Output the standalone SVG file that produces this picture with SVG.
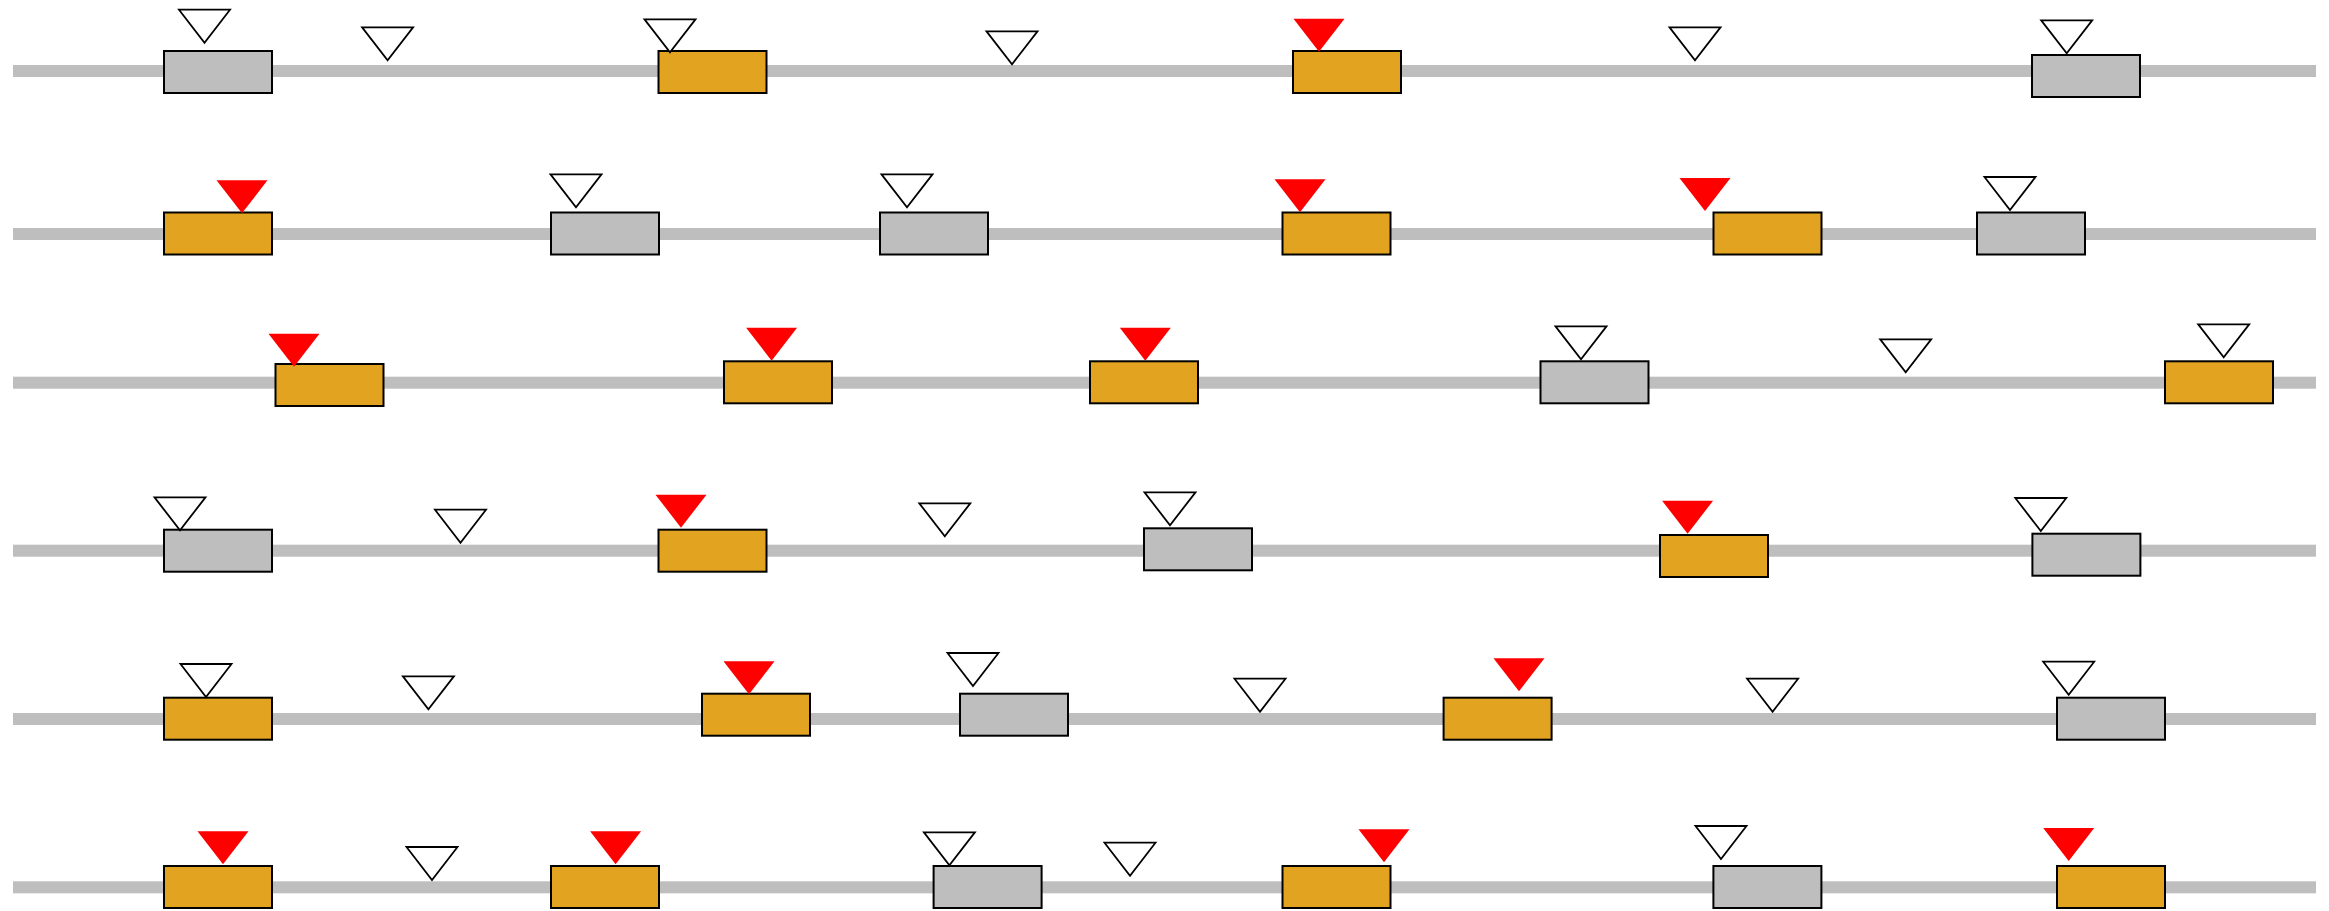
<svg xmlns="http://www.w3.org/2000/svg" xmlns:xlink="http://www.w3.org/1999/xlink" width="2329" height="911" viewBox="0 0 2329 911">
<style>
.track{fill:#bebebe}
.bg{fill:#bebebe;stroke:#000;stroke-width:2}
.bo{fill:#e2a321;stroke:#000;stroke-width:2}
.tw{fill:#fff;stroke:#000;stroke-width:1.8;stroke-linejoin:miter}
.tr{fill:#ff0000;stroke:none}
</style>
<defs>
<polygon id="tri" points="-25.5,-33 25.5,-33 0,0"/>
</defs>
<rect width="2329" height="911" fill="#fff"/>
<g id="connectors">
<rect class="track" x="13" y="65" width="2303" height="12"/>
<rect class="track" x="13" y="228" width="2303" height="12"/>
<rect class="track" x="13" y="376.7" width="2303" height="12"/>
<rect class="track" x="13" y="544.7" width="2303" height="12"/>
<rect class="track" x="13" y="713" width="2303" height="12"/>
<rect class="track" x="13" y="881.3" width="2303" height="12"/>
</g>
<g id="row1">
<g id="r1b1"><rect class="bg" x="164" y="51" width="108" height="42"/></g>
<g id="r1t1"><use href="#tri" class="tw" x="204.5" y="42.7"/></g>
<g id="r1t2"><use href="#tri" class="tw" x="387.6" y="60.3"/></g>
<g id="r1b2"><rect class="bo" x="658.5" y="51" width="108" height="42"/></g>
<g id="r1t3"><use href="#tri" class="tw" x="670" y="52.3"/></g>
<g id="r1t4"><use href="#tri" class="tw" x="1012" y="64.3"/></g>
<g id="r1b3"><rect class="bo" x="1293" y="51" width="108" height="42"/></g>
<g id="r1t5"><use href="#tri" class="tr" x="1319" y="51.7"/></g>
<g id="r1t6"><use href="#tri" class="tw" x="1695" y="60.3"/></g>
<g id="r1b4"><rect class="bg" x="2032" y="55" width="108" height="42"/></g>
<g id="r1t7"><use href="#tri" class="tw" x="2066.7" y="53.3"/></g>
</g>
<g id="row2">
<g id="r2b1"><rect class="bo" x="164" y="212.5" width="108" height="42"/></g>
<g id="r2t1"><use href="#tri" class="tr" x="242" y="213.3"/></g>
<g id="r2b2"><rect class="bg" x="551" y="212.5" width="108" height="42"/></g>
<g id="r2t2"><use href="#tri" class="tw" x="576" y="207.3"/></g>
<g id="r2b3"><rect class="bg" x="880" y="212.5" width="108" height="42"/></g>
<g id="r2t3"><use href="#tri" class="tw" x="907" y="207.3"/></g>
<g id="r2b4"><rect class="bo" x="1282.5" y="212.5" width="108" height="42"/></g>
<g id="r2t4"><use href="#tri" class="tr" x="1300" y="212.3"/></g>
<g id="r2b5"><rect class="bo" x="1713.5" y="212.5" width="108" height="42"/></g>
<g id="r2t5"><use href="#tri" class="tr" x="1705" y="211"/></g>
<g id="r2b6"><rect class="bg" x="1977" y="212.5" width="108" height="42"/></g>
<g id="r2t6"><use href="#tri" class="tw" x="2010" y="210"/></g>
</g>
<g id="row3">
<g id="r3b1"><rect class="bo" x="275.5" y="364" width="108" height="42"/></g>
<g id="r3t1"><use href="#tri" class="tr" x="294" y="366.7"/></g>
<g id="r3b2"><rect class="bo" x="724" y="361.3" width="108" height="42"/></g>
<g id="r3t2"><use href="#tri" class="tr" x="771.6" y="360.7"/></g>
<g id="r3b3"><rect class="bo" x="1090" y="361.3" width="108" height="42"/></g>
<g id="r3t3"><use href="#tri" class="tr" x="1145.3" y="360.7"/></g>
<g id="r3b4"><rect class="bg" x="1540.5" y="361.3" width="108" height="42"/></g>
<g id="r3t4"><use href="#tri" class="tw" x="1581" y="359.3"/></g>
<g id="r3t5"><use href="#tri" class="tw" x="1905.7" y="372.3"/></g>
<g id="r3b5"><rect class="bo" x="2165" y="361.3" width="108" height="42"/></g>
<g id="r3t6"><use href="#tri" class="tw" x="2223.7" y="357.3"/></g>
</g>
<g id="row4">
<g id="r4b1"><rect class="bg" x="164" y="529.7" width="108" height="42"/></g>
<g id="r4t1"><use href="#tri" class="tw" x="180" y="530.3"/></g>
<g id="r4t2"><use href="#tri" class="tw" x="460.5" y="542.7"/></g>
<g id="r4b2"><rect class="bo" x="658.5" y="529.7" width="108" height="42"/></g>
<g id="r4t3"><use href="#tri" class="tr" x="681" y="527.7"/></g>
<g id="r4t4"><use href="#tri" class="tw" x="944.8" y="536.3"/></g>
<g id="r4b3"><rect class="bg" x="1144" y="528.3" width="108" height="42"/></g>
<g id="r4t5"><use href="#tri" class="tw" x="1170" y="525.3"/></g>
<g id="r4b4"><rect class="bo" x="1660" y="535" width="108" height="42"/></g>
<g id="r4t6"><use href="#tri" class="tr" x="1687.6" y="533.7"/></g>
<g id="r4b5"><rect class="bg" x="2032.4" y="533.7" width="108" height="42"/></g>
<g id="r4t7"><use href="#tri" class="tw" x="2040.8" y="531"/></g>
</g>
<g id="row5">
<g id="r5b1"><rect class="bo" x="164" y="697.7" width="108" height="42"/></g>
<g id="r5t1"><use href="#tri" class="tw" x="206" y="697"/></g>
<g id="r5t2"><use href="#tri" class="tw" x="428.4" y="709.3"/></g>
<g id="r5b2"><rect class="bo" x="702" y="693.7" width="108" height="42"/></g>
<g id="r5t3"><use href="#tri" class="tr" x="749" y="694.3"/></g>
<g id="r5b3"><rect class="bg" x="960" y="693.7" width="108" height="42"/></g>
<g id="r5t4"><use href="#tri" class="tw" x="973" y="686"/></g>
<g id="r5t5"><use href="#tri" class="tw" x="1260" y="711.7"/></g>
<g id="r5b4"><rect class="bo" x="1443.6" y="697.7" width="108" height="42"/></g>
<g id="r5t6"><use href="#tri" class="tr" x="1519" y="691.3"/></g>
<g id="r5t7"><use href="#tri" class="tw" x="1772.6" y="711.7"/></g>
<g id="r5b5"><rect class="bg" x="2057" y="697.7" width="108" height="42"/></g>
<g id="r5t8"><use href="#tri" class="tw" x="2068.7" y="694.7"/></g>
</g>
<g id="row6">
<g id="r6b1"><rect class="bo" x="164" y="866" width="108" height="42"/></g>
<g id="r6t1"><use href="#tri" class="tr" x="223" y="864.3"/></g>
<g id="r6t2"><use href="#tri" class="tw" x="432" y="880"/></g>
<g id="r6b2"><rect class="bo" x="551" y="866" width="108" height="42"/></g>
<g id="r6t3"><use href="#tri" class="tr" x="615.6" y="864.3"/></g>
<g id="r6b3"><rect class="bg" x="933.6" y="866" width="108" height="42"/></g>
<g id="r6t4"><use href="#tri" class="tw" x="949.4" y="865.3"/></g>
<g id="r6t5"><use href="#tri" class="tw" x="1130" y="875.7"/></g>
<g id="r6b4"><rect class="bo" x="1282.5" y="866" width="108" height="42"/></g>
<g id="r6t6"><use href="#tri" class="tr" x="1384" y="862.3"/></g>
<g id="r6b5"><rect class="bg" x="1713.4" y="866" width="108" height="42"/></g>
<g id="r6t7"><use href="#tri" class="tw" x="1721" y="859"/></g>
<g id="r6b6"><rect class="bo" x="2057" y="866" width="108" height="42"/></g>
<g id="r6t8"><use href="#tri" class="tr" x="2068.7" y="861"/></g>
</g>
</svg>
